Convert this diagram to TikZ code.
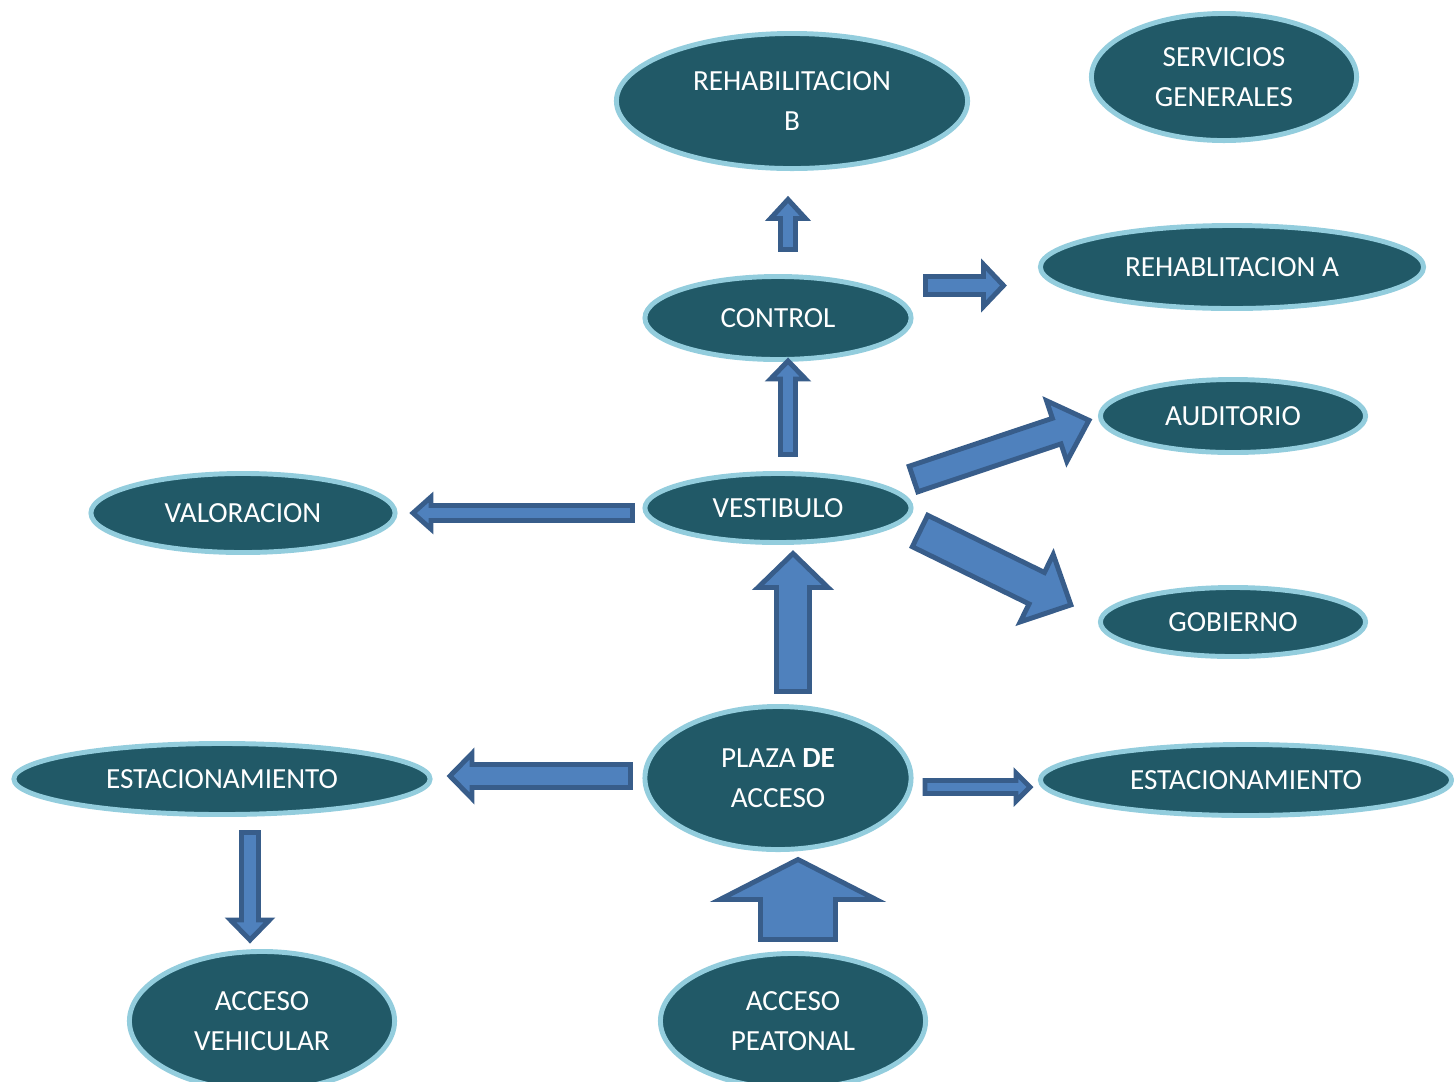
\documentclass[tikz,border=0pt]{standalone}
\usepackage{fontspec}
\setmainfont{Carlito}
\usepackage{tikz}
\usetikzlibrary{shapes.geometric}
\definecolor{ovalfill}{RGB}{33,89,103}
\definecolor{ovalline}{RGB}{147,205,221}
\definecolor{arrfill}{HTML}{4F81BD}
\definecolor{arrline}{HTML}{385D8A}
%% block arrow: tail, angle, length, shaft half width, head half width, head length
\newcommand{\blockarrow}[6]{%
  \begin{scope}[shift={(#1)}, rotate=#2]
    \draw[barrow] (0,#4) -- ({#3-#6},#4) -- ({#3-#6},#5) -- (#3,0)
      -- ({#3-#6},-#5) -- ({#3-#6},-#4) -- (0,-#4) -- cycle;
  \end{scope}}

\begin{document}
\begin{tikzpicture}[
  x=0.01cm, y=-0.01cm,
  every node/.style={font=\fontsize{8.3}{11.4}\selectfont},
  oval/.style={ellipse, draw=ovalline, fill=ovalfill, line width=1.4pt,
               text=white, align=center, inner sep=0pt},
  barrow/.style={draw=arrline, fill=arrfill, line width=1.4pt, line join=miter}
]
\clip (0,0) rectangle (1454,1081);
%% upper row
\node[oval, minimum width=3.51cm, minimum height=1.35cm] (rehabB) at (792,101)
  {REHABILITACION\\B};
\node[oval, minimum width=2.65cm, minimum height=1.27cm] (servicios) at (1224,77)
  {SERVICIOS\\GENERALES};
\node[oval, minimum width=3.83cm, minimum height=0.83cm] (rehabA) at (1232,267)
  {REHABLITACION A};
\node[oval, minimum width=2.66cm, minimum height=0.83cm] (control) at (778,318)
  {CONTROL};
%% middle row
\node[oval, minimum width=2.65cm, minimum height=0.73cm] (auditorio) at (1233,416)
  {AUDITORIO};
\node[oval, minimum width=3.04cm, minimum height=0.79cm] (valoracion) at (243,513)
  {VALORACION};
\node[oval, minimum width=2.66cm, minimum height=0.69cm] (vestibulo) at (778,508)
  {VESTIBULO};
\node[oval, minimum width=2.65cm, minimum height=0.69cm] (gobierno) at (1233,622)
  {GOBIERNO};
%% lower rows
\node[oval, minimum width=4.16cm, minimum height=0.71cm] (estacL) at (222,779)
  {ESTACIONAMIENTO};
\node[oval, minimum width=2.66cm, minimum height=1.43cm] (plaza) at (778,778)
  {PLAZA \textbf{DE}\\ACCESO};
\node[oval, minimum width=4.11cm, minimum height=0.71cm] (estacR) at (1246,780)
  {ESTACIONAMIENTO};
\node[oval, minimum width=2.65cm, minimum height=1.39cm] (accesoV) at (262,1021)
  {ACCESO\\VEHICULAR};
\node[oval, minimum width=2.65cm, minimum height=1.35cm] (accesoP) at (793,1021)
  {ACCESO\\PEATONAL};
%% arrows
\blockarrow{788,249.5}{90}{50}{7.5}{17.5}{19}
\blockarrow{925.5,285.5}{0}{78}{9}{21}{20}
\blockarrow{788,454.5}{90}{93.5}{7.5}{17.5}{18}
\blockarrow{913.5,479}{18.5}{185}{13.5}{32}{34}
\blockarrow{920,531}{-26.1}{168}{17.5}{37.5}{38}
\blockarrow{632.5,513}{180}{219.5}{7.5}{16}{18}
\blockarrow{793,691.5}{90}{138}{16.5}{35}{34}
\blockarrow{630.5,776}{180}{180.5}{11.5}{22.5}{22}
\blockarrow{925,787}{0}{105}{6.5}{14}{14}
\blockarrow{250,832.5}{-90}{107.5}{8.5}{19.5}{20}
\blockarrow{798,939.5}{90}{80}{37.5}{78}{40}
\end{tikzpicture}
\end{document}
